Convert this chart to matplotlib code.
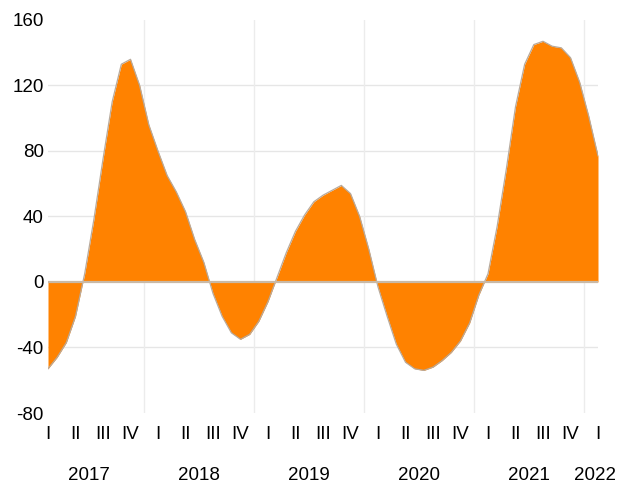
import numpy as np
import matplotlib
matplotlib.use("Agg")
import matplotlib.pyplot as plt

# monthly values, Jan 2017 .. Jan 2022
values = [
    -53, -46, -37, -21, 5, 38, 75, 110, 133, 136, 120, 96,
    80, 65, 55, 43, 26, 12, -7, -21, -31, -35, -32, -24,
    -12, 3, 18, 31, 41, 49, 53, 56, 59, 54, 40, 20,
    -3, -21, -38, -49, -53, -54, -52, -48, -43, -36, -25, -8,
    5, 34, 69, 107, 133, 145, 147, 144, 143, 137, 122, 101,
    77,
]
quarters = ["I", "II", "III", "IV"] * 5 + ["I"]
years = ["2017", "2018", "2019", "2020", "2021", "2022"]
yticks = [-80, -40, 0, 40, 80, 120, 160]

plt.rcParams["font.family"] = ["Liberation Sans", "DejaVu Sans"]

x = np.arange(len(values))
y = np.array(values)

fig = plt.figure(figsize=(6.31, 4.86), dpi=100)
ax = fig.add_axes([48 / 631, 73 / 486, 550 / 631, 393 / 486])

ax.fill_between(x, y, 0, color="#ff8200", linewidth=0, zorder=2)
ax.plot(x, y, color="#b8aa9c", linewidth=0.9, zorder=3)
ax.axhline(0, color="#c9b9a6", linewidth=1.6, zorder=4)

ax.set_xlim(0, len(values) - 1)
ax.set_ylim(-80, 160)

# grid
for v in yticks:
    if v not in (0, -80, 160):
        ax.axhline(v, color="#e6e6e6", linewidth=1, zorder=1)
for gx in np.arange(10.5, len(values), 12):
    ax.axvline(gx, color="#ececec", linewidth=1, zorder=1)

ax.set_yticks(yticks)
ax.set_yticklabels([str(v) for v in yticks], fontsize=13.5)
ax.set_xticks(x[::3])
ax.set_xticklabels(quarters, fontsize=13.5)
ax.tick_params(length=0)
ax.tick_params(axis="y", pad=3)
ax.tick_params(axis="x", pad=9)

for s in ax.spines.values():
    s.set_visible(False)

# year labels
year_pos = [4.5 + 12 * i for i in range(5)] + [59.7]
for pos, yr in zip(year_pos, years):
    ax.text(pos, -0.158, yr, transform=ax.get_xaxis_transform(),
            ha="center", va="center", fontsize=13.5)

fig.savefig("out.png", dpi=100)
